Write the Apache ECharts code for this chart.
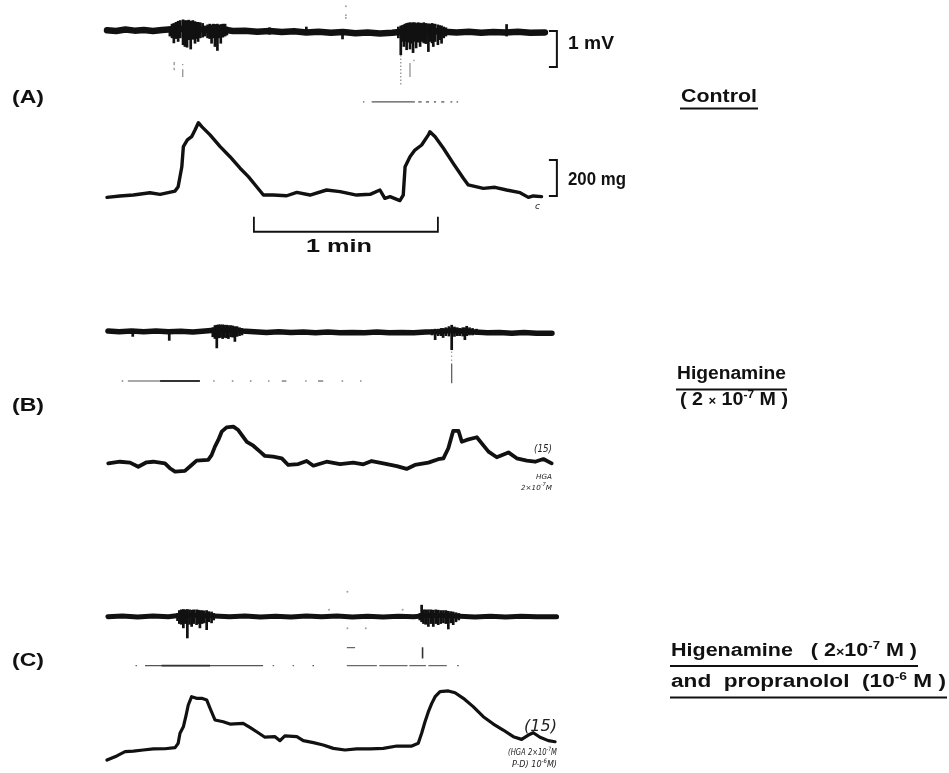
<!DOCTYPE html>
<html>
<head>
<meta charset="utf-8">
<script src="https://cdn.jsdelivr.net/npm/echarts@6/dist/echarts.min.js"></script>
<style>
  html, body { margin: 0; padding: 0; background: #fff; }
  #main { width: 949px; height: 773px; }
</style>
</head>
<body>
<div id="main"></div>
<script>
// Time in seconds, EMG in mV, tension in mg.

// Scale bars
const MV_SCALE = 1;
const MG_SCALE = 200;
const MIN_SCALE_S = 60;

// ---- Panel A (control) ----
const EMG_A_BASE = [[0,0.02],[3,0.0],[6,0.04],[9,0.01],[12,0.03],[15,0.0],[18,0.03],[21,0.05],[25,0.06],[30,0.05],[34,0.03],[38,0.04],[41,0.0],[45,0.01],[49,-0.02],[53,0.0],[57,-0.03],[61,-0.01],[65,-0.04],[69,-0.02],[73,-0.05],[77,-0.03],[81,-0.06],[85,-0.04],[89,-0.07],[93,-0.05],[96,-0.02],[100,0.0],[105,0.0],[110,-0.02],[114,-0.04],[118,-0.02],[122,-0.05],[126,-0.03],[130,-0.04],[134,-0.02],[138,-0.05],[142.8,-0.04]];
// [time, upper mV, lower mV]
const EMG_A_SPIKES = [
  [20.5,0.12,-0.15],[21.2,0.2,-0.2],[21.8,0.22,-0.34],[22.5,0.25,-0.22],[23.2,0.28,-0.30],[23.9,0.3,-0.2],[24.8,0.32,-0.39],[25.4,0.3,-0.44],[26.1,0.3,-0.46],[26.7,0.31,-0.25],[27.3,0.28,-0.51],[28.0,0.3,-0.24],[28.7,0.27,-0.35],[29.2,0.25,-0.22],[29.7,0.25,-0.30],[30.4,0.24,-0.2],[31.2,0.22,-0.18],[32.0,0.15,-0.15],[32.8,0.18,-0.2],[33.5,0.2,-0.22],[34.1,0.18,-0.35],[34.7,0.2,-0.2],[35.2,0.19,-0.44],[35.6,0.18,-0.25],[36.0,0.2,-0.55],[36.6,0.17,-0.2],[37.1,0.19,-0.35],[37.8,0.2,-0.18],[38.5,0.2,-0.15],[39.1,0.12,-0.12],
  [53,0.1,-0.1],[65,0.12,-0.08],[76.8,0.05,-0.23],
  [95.0,0.12,-0.2],[95.8,0.15,-0.67],[96.3,0.16,-0.3],[96.8,0.18,-0.44],[97.2,0.2,-0.3],[97.7,0.22,-0.53],[98.2,0.23,-0.32],[98.8,0.24,-0.51],[99.3,0.23,-0.35],[99.8,0.24,-0.61],[100.3,0.24,-0.3],[100.8,0.22,-0.48],[101.4,0.24,-0.32],[102.1,0.23,-0.44],[102.7,0.22,-0.3],[103.3,0.24,-0.34],[104.0,0.22,-0.36],[104.8,0.21,-0.58],[105.4,0.2,-0.3],[106.0,0.22,-0.34],[106.4,0.2,-0.44],[107.0,0.2,-0.3],[107.9,0.18,-0.39],[108.5,0.16,-0.25],[109.1,0.15,-0.35],[109.8,0.12,-0.2],[110.5,0.1,-0.15],
  [130.3,0.19,-0.15]
];
const EMG_A_FAINT = [[21.9,-0.86,-0.95],[21.9,-1.02,-1.09],[24.7,-0.92,-0.95],[24.7,-1.06,-1.28],[98.8,-0.89,-1.28],[100.1,-0.80,-0.84]];
const EMG_A_DOTTED = [[95.8,-0.67,-1.5]];
const EMG_A_DOTS = [[77.9,0.69],[77.9,0.44],[77.9,0.36]];
// [start s, end s, level]
const MARK_A = [[83.5,83.9,-1.97],[86.3,100.4,-1.97],[101.5,102.6,-1.97],[104,105,-1.97],[106.6,107.3,-1.97],[109,110,-1.97],[112,112.6,-1.97],[114,114.5,-1.97]];
const TENSION_A = [[0,59],[4.2,67],[8.6,72],[14.0,85],[17.3,76],[22.2,94],[23.2,118],[24.4,229],[24.9,341],[26.2,378],[27.6,396],[28.7,433],[29.8,474],[30.9,452],[33.6,406],[36.9,341],[40.1,285],[43.4,221],[46.1,174],[48.8,118],[51.0,72],[54.2,72],[58.6,68],[61.9,87],[66.2,72],[71.6,100],[76.0,91],[81.4,72],[85.8,76],[89.0,100],[90.6,54],[92.3,63],[95.5,41],[96.6,72],[97.2,229],[98.8,285],[100.4,322],[102.6,350],[104.8,406],[105.3,424],[107.0,396],[109.7,332],[112.9,248],[116.2,165],[117.8,128],[122.7,109],[126.5,115],[130.3,100],[134.7,85],[137.4,59],[139.0,67],[141.7,63]];

// ---- Panel B (higenamine) ----
const EMG_B_BASE = [[0.3,0.02],[4,0.0],[8,0.02],[12,0.0],[16,0.02],[20,0.0],[24,0.01],[28,-0.01],[32,0.02],[36,0.05],[40,0.05],[44,0.02],[48,0.0],[52,-0.02],[56,0.0],[60,-0.02],[64,-0.01],[68,-0.03],[72,-0.01],[76,-0.03],[80,-0.02],[84,-0.03],[88,-0.01],[92,-0.03],[96,-0.02],[100,-0.03],[104,-0.01],[108,0.0],[112,0.03],[116,0.01],[120,-0.01],[124,-0.03],[128,-0.02],[132,-0.04],[136,-0.02],[140,-0.04],[145.1,-0.04]];
const EMG_B_SPIKES = [
  [8.4,0.06,-0.14],[20.3,0.06,-0.25],
  [34.5,0.12,-0.15],[35.2,0.18,-0.2],[35.8,0.19,-0.46],[36.4,0.2,-0.18],[37.0,0.2,-0.17],[37.7,0.2,-0.2],[38.3,0.19,-0.17],[39.0,0.19,-0.18],[39.6,0.18,-0.2],[40.3,0.18,-0.15],[41.0,0.17,-0.16],[41.7,0.15,-0.28],[42.4,0.15,-0.14],[43.2,0.12,-0.12],[44.0,0.1,-0.1],
  [106.0,0.06,-0.1],[107.0,0.08,-0.23],[108.0,0.08,-0.12],[109.0,0.1,-0.12],[109.6,0.1,-0.17],[110.5,0.12,-0.12],[111.5,0.15,-0.13],[112.4,0.19,-0.51],[113.3,0.14,-0.14],[114.2,0.12,-0.12],[115.0,0.1,-0.12],[116.0,0.12,-0.13],[116.7,0.12,-0.23],[117.3,0.16,-0.12],[118.2,0.12,-0.1],[119.2,0.1,-0.1],[120.5,0.08,-0.08]
];
const EMG_B_FAINT = [[112.4,-0.88,-1.43]];
const EMG_B_DOTTED = [[112.4,-0.55,-0.88]];
const MARK_B_THIN = [[4.8,5.3,-1.37],[6.8,17.3,-1.37],[34.6,35.1,-1.37],[40.7,41.2,-1.37],[46.6,47.1,-1.37],[52.5,53.0,-1.37],[57.0,58.5,-1.37],[64.6,65.1,-1.37],[68.8,70.5,-1.37],[76.5,77.0,-1.37],[82.5,83.0,-1.37]];
const MARK_B_THICK = [[17.3,30.3,-1.37]];
const TENSION_B = [[0.4,248],[4.2,257],[7.5,252],[10.2,229],[12.9,254],[15.1,257],[18.9,248],[20.5,221],[22.2,202],[25.4,206],[27.6,239],[29.2,263],[33.0,267],[34.1,294],[35.2,341],[36.3,378],[37.4,424],[39.0,448],[41.2,452],[42.8,433],[45.6,368],[47.7,346],[49.9,313],[51.5,289],[54.2,285],[57.0,276],[59.1,239],[62.4,244],[65.1,261],[67.3,235],[71.6,257],[76.0,244],[80.3,252],[83.6,243],[86.3,261],[90.1,248],[94.5,233],[97.7,217],[100.4,239],[104.8,252],[108.0,271],[109.7,276],[111.3,332],[112.9,429],[114.6,429],[115.7,368],[117.3,378],[120.6,393],[122.2,359],[124.4,313],[127.1,282],[130.9,309],[133.6,276],[136.9,263],[139.6,257],[142.3,272],[145.0,248]];

// ---- Panel C (higenamine + propranolol) ----
const EMG_C_BASE = [[0.3,0.0],[5,0.02],[10,-0.01],[15,0.02],[20,0.0],[24,0.04],[30,0.04],[35,0.02],[40,0.0],[45,0.02],[50,-0.01],[55,0.01],[60,-0.01],[65,0.02],[70,0.0],[75,0.02],[80,-0.01],[85,0.01],[90,-0.01],[95,0.01],[100,0.0],[104,0.03],[110,0.03],[115,0.01],[120,-0.01],[125,0.01],[130,-0.01],[135,0.01],[140,0.0],[146.6,0.0]];
const EMG_C_SPIKES = [
  [23.0,0.1,-0.12],[23.6,0.18,-0.2],[24.2,0.2,-0.22],[24.9,0.21,-0.32],[25.5,0.2,-0.2],[26.2,0.21,-0.6],[26.9,0.2,-0.22],[27.6,0.19,-0.28],[28.3,0.2,-0.2],[29.2,0.2,-0.23],[29.8,0.19,-0.2],[30.3,0.18,-0.32],[31.0,0.18,-0.2],[31.7,0.17,-0.18],[32.5,0.18,-0.37],[33.2,0.15,-0.15],[34.1,0.14,-0.18],[34.8,0.1,-0.1],
  [102.0,0.1,-0.1],[102.6,0.33,-0.15],[103.2,0.2,-0.2],[103.9,0.2,-0.22],[104.8,0.2,-0.28],[105.6,0.2,-0.2],[106.4,0.19,-0.28],[107.2,0.2,-0.2],[108.0,0.19,-0.23],[108.8,0.18,-0.2],[109.7,0.18,-0.18],[110.5,0.18,-0.2],[111.3,0.16,-0.35],[112.1,0.15,-0.18],[112.9,0.14,-0.23],[113.8,0.12,-0.15],[114.7,0.1,-0.1]
];
const EMG_C_FAINT = [[102.9,-0.85,-1.16]];
const EMG_C_DOTS = [[78.4,0.69],[78.4,-0.32],[84.4,-0.32],[72.4,0.19],[96.4,0.19]];
const MARK_C_THIN = [[9.3,9.8,-1.36],[12.4,50.9,-1.36],[54.0,54.5,-1.36],[60.5,61.0,-1.36],[67.0,67.5,-1.36],[78.2,88.0,-1.36],[88.8,98.0,-1.36],[98.6,104.0,-1.36],[104.8,110.8,-1.36],[114.2,114.7,-1.36],[78.2,80.9,-0.86]];
const MARK_C_THICK = [[17.8,33.6,-1.36]];
const TENSION_C = [[0,44],[3.2,67],[5.9,91],[8.6,94],[11.8,100],[15.1,106],[18.9,107],[22.2,113],[23.2,137],[23.8,193],[24.9,229],[25.8,294],[26.5,350],[27.6,396],[29.2,387],[30.9,387],[32.5,378],[33.6,332],[35.2,267],[37.9,257],[40.1,244],[44.4,248],[46.6,226],[49.3,196],[51.5,171],[54.8,174],[56.4,152],[58.0,178],[61.9,174],[64.0,152],[67.3,141],[70.5,128],[73.8,109],[77.6,100],[81.4,106],[85.8,106],[90.1,109],[94.5,122],[99.4,122],[101.5,137],[102.6,193],[103.7,257],[104.8,313],[105.9,359],[107.0,396],[108.6,424],[111.3,428],[113.5,418],[116.2,387],[119.4,341],[122.7,285],[126.0,244],[129.2,211],[132.5,174],[135.2,159],[137.4,183],[139.0,196],[141.2,171],[143.9,152],[146.1,146]];

// ---------------- drawing ----------------
const INK = '#111';
const FAINT = '#8a8a8a';
const LEFT = 107, WIDTH = 460, T_MAX = 150;

const gridDefs = [
  { top: 2.2,   height: 100.8, min: -2,   max: 0.8 }, // A EMG
  { top: 100,   height: 144,   min: -200, max: 600 }, // A tension
  { top: 302.9, height: 100.8, min: -2,   max: 0.8 }, // B EMG
  { top: 400,   height: 108,   min: 0,    max: 600 }, // B tension
  { top: 587.9, height: 100.8, min: -2,   max: 0.8 }, // C EMG
  { top: 660,   height: 108,   min: 0,    max: 600 }  // C tension
];
const grid = gridDefs.map(g => ({ left: LEFT, width: WIDTH, top: g.top, height: g.height, show: false }));
const xAxis = gridDefs.map((g, i) => ({ type: 'value', gridIndex: i, min: 0, max: T_MAX, show: false }));
const yAxis = gridDefs.map((g, i) => ({ type: 'value', gridIndex: i, min: g.min, max: g.max, show: false }));

function trace(gi, data, width) {
  return { type: 'line', xAxisIndex: gi, yAxisIndex: gi, data, symbol: 'none', silent: true,
    lineStyle: { color: INK, width, join: 'round', cap: 'round' }, z: 3 };
}
function vStrokes(gi, data, width, color, dash) {
  return { type: 'custom', xAxisIndex: gi, yAxisIndex: gi, data, silent: true, clip: false, z: 4,
    encode: { x: 0, y: [1, 2] },
    renderItem: (params, api) => {
      const a = api.coord([api.value(0), api.value(1)]);
      const b = api.coord([api.value(0), api.value(2)]);
      return { type: 'line', shape: { x1: a[0], y1: a[1], x2: b[0], y2: b[1] },
        style: { stroke: color, lineWidth: width, lineDash: dash || null } };
    } };
}
function hStrokes(gi, data, width, color) {
  return { type: 'custom', xAxisIndex: gi, yAxisIndex: gi, data, silent: true, clip: false, z: 4,
    encode: { x: [0, 1], y: 2 },
    renderItem: (params, api) => {
      const a = api.coord([api.value(0), api.value(2)]);
      const b = api.coord([api.value(1), api.value(2)]);
      return { type: 'line', shape: { x1: a[0], y1: a[1], x2: b[0], y2: b[1] },
        style: { stroke: color, lineWidth: width } };
    } };
}
function dots(gi, data, size, color) {
  return { type: 'scatter', xAxisIndex: gi, yAxisIndex: gi, data, symbol: 'circle', symbolSize: size,
    silent: true, itemStyle: { color }, z: 4 };
}
// open bracket: arms from t0 to t1 at levels v0 and v1, spine at t1
function bracket(gi, t0, t1, v0, v1) {
  return { type: 'custom', xAxisIndex: gi, yAxisIndex: gi, data: [[t0, t1, v0, v1]], silent: true, clip: false, z: 5,
    encode: { x: [0, 1], y: [2, 3] },
    renderItem: (params, api) => {
      const pts = [[api.value(0), api.value(2)], [api.value(1), api.value(2)], [api.value(1), api.value(3)], [api.value(0), api.value(3)]]
        .map(p => api.coord(p));
      return { type: 'polyline', shape: { points: pts }, style: { stroke: INK, lineWidth: 2, fill: null } };
    } };
}
// time bar with upturned ends
function timeBar(gi, t0, seconds, vBar, vTip) {
  return { type: 'custom', xAxisIndex: gi, yAxisIndex: gi, data: [[t0, t0 + seconds, vBar, vTip]], silent: true, clip: false, z: 5,
    encode: { x: [0, 1], y: [2, 3] },
    renderItem: (params, api) => {
      const pts = [[api.value(0), api.value(3)], [api.value(0), api.value(2)], [api.value(1), api.value(2)], [api.value(1), api.value(3)]]
        .map(p => api.coord(p));
      return { type: 'polyline', shape: { points: pts }, style: { stroke: INK, lineWidth: 1.8, fill: null } };
    } };
}

const series = [
  // A
  trace(0, EMG_A_BASE, 6.5),
  vStrokes(0, EMG_A_SPIKES, 2.7, INK),
  vStrokes(0, EMG_A_FAINT, 1.2, FAINT),
  vStrokes(0, EMG_A_DOTTED, 1.2, FAINT, [1.5, 2]),
  dots(0, EMG_A_DOTS, 2, FAINT),
  hStrokes(0, MARK_A, 1.3, '#555'),
  trace(1, TENSION_A, 3.4),
  bracket(0, 144.1, 146.7, 0, -MV_SCALE),
  bracket(1, 144.1, 146.7, 67, 67 + MG_SCALE),
  timeBar(1, 47.9, MIN_SCALE_S, -132, -48),
  // B
  trace(2, EMG_B_BASE, 5.5),
  vStrokes(2, EMG_B_SPIKES, 2.7, INK),
  vStrokes(2, EMG_B_FAINT, 1.2, '#555'),
  vStrokes(2, EMG_B_DOTTED, 1.0, FAINT, [1.5, 2.5]),
  hStrokes(2, MARK_B_THIN, 1.1, '#555'),
  hStrokes(2, MARK_B_THICK, 1.8, '#333'),
  trace(3, TENSION_B, 3.8),
  // C
  trace(4, EMG_C_BASE, 5),
  vStrokes(4, EMG_C_SPIKES, 2.7, INK),
  vStrokes(4, EMG_C_FAINT, 1.6, '#333'),
  dots(4, EMG_C_DOTS, 2, FAINT),
  hStrokes(4, MARK_C_THIN, 1.1, '#555'),
  hStrokes(4, MARK_C_THICK, 1.7, '#333'),
  trace(5, TENSION_C, 3.2)
];

// ---- text ----
const measureCtx = document.createElement('canvas').getContext('2d');
function fontOf(size, style, family) {
  return `${style || 'bold'} ${size}px ${family || '"Liberation Sans", Arial, sans-serif'}`;
}
// runs [text, size, dy] laid out together and stretched across x0..x1
function textRun(parts, x0, x1, yMid, opts) {
  opts = opts || {};
  let total = 0;
  const widths = parts.map(p => {
    measureCtx.font = fontOf(p[1], opts.style, opts.family);
    const w = measureCtx.measureText(p[0]).width;
    total += w;
    return w;
  });
  const sx = (x1 - x0) / total;
  let x = x0;
  return parts.map((p, i) => {
    const el = { type: 'text', x, y: yMid + (p[2] || 0), scaleX: sx, silent: true, z: 10,
      style: { text: p[0], font: fontOf(p[1], opts.style, opts.family), fill: opts.color || INK,
        align: 'left', verticalAlign: 'middle', textAlign: 'left', textVerticalAlign: 'middle' } };
    x += widths[i] * sx;
    return el;
  });
}
function underline(x1, x2, y, w) {
  return { type: 'line', silent: true, shape: { x1, y1: y, x2, y2: y }, style: { stroke: INK, lineWidth: w || 2 } };
}
const HAND = '"DejaVu Sans", sans-serif';
const NOTE = { style: 'italic', family: HAND, color: '#222' };

const graphic = [].concat(
  textRun([['(A)', 19]], 12, 44, 98),
  textRun([['(B)', 19]], 12, 44, 406),
  textRun([['(C)', 19]], 12, 44, 661),
  textRun([['1 mV', 18]], 568, 614, 44),
  textRun([['200 mg', 18]], 568, 626, 180),
  textRun([['1 min', 18]], 306, 372, 247),
  textRun([['Control', 18]], 681, 757, 97),
  [underline(680, 758, 108.5)],
  textRun([['Higenamine', 18]], 677, 786, 374.5),
  [underline(676, 787, 389.5)],
  textRun([['( 2 ', 18], ['×', 12, 1], [' 10', 18], ['-7', 11, -6], [' M )', 18]], 680, 788, 400.5),
  textRun([['Higenamine   ( 2', 18], ['×', 12, 1], ['10', 18], ['-7', 11, -6], [' M )', 18]], 671, 917, 651.5),
  [underline(670, 918, 666)],
  textRun([['and  propranolol  (10', 18], ['-6', 11, -6], [' M )', 18]], 671, 946, 682.5),
  [underline(670, 947, 697.5)],
  // handwritten notes on the chart record
  textRun([['c', 9]], 535, 540, 207, NOTE),
  textRun([['(15)', 10]], 534, 552, 449, NOTE),
  textRun([['HGA', 7]], 536, 552, 477, NOTE),
  textRun([['2×10', 7], ['-7', 5, -3], ['M', 7]], 521, 552, 488, NOTE),
  textRun([['(15)', 15]], 524, 557, 727, NOTE),
  textRun([['(HGA 2×10', 9], ['-7', 6, -4], ['M', 9]], 508, 557, 753, NOTE),
  textRun([['P-D) 10', 9], ['-6', 6, -4], ['M)', 9]], 512, 557, 765, NOTE)
);

const chart = echarts.init(document.getElementById('main'), null, { renderer: 'canvas' });
chart.setOption({
  animation: false,
  backgroundColor: '#fff',
  grid, xAxis, yAxis, series, graphic
});
</script>
</body>
</html>
